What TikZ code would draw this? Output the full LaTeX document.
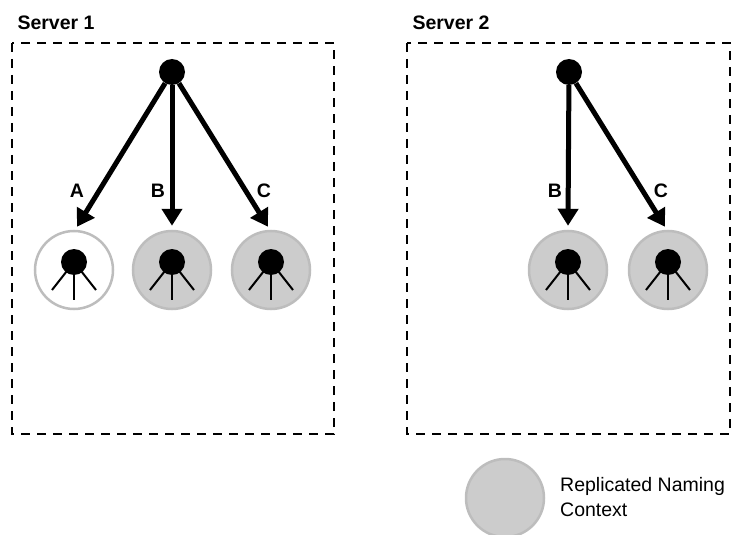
\documentclass[tikz,border=0pt]{standalone}
\usepackage{fontspec}
\setmainfont{Liberation Sans}
\usetikzlibrary{arrows.meta}
\definecolor{ctxfill}{HTML}{CCCCCC}
\definecolor{ctxedge}{HTML}{BDBDBD}
\tikzset{
  serverbox/.style={draw=black, line width=2.7pt, dash pattern=on 9pt off 7pt},
  rootdot/.style={circle, fill=black, minimum size=26pt, inner sep=0pt},
  ctx/.style={circle, draw=ctxedge, line width=2.5pt, fill=ctxfill, minimum size=78pt, inner sep=0pt},
  plainctx/.style={circle, draw=ctxedge, line width=2.5pt, fill=white, minimum size=78pt, inner sep=0pt},
  ref/.style={line width=5pt, -{Triangle[length=17pt,width=20pt]}},
  lbl/.style={font=\fontsize{19.5pt}{23pt}\selectfont\bfseries},
  title/.style={font=\fontsize{19.5pt}{23pt}\selectfont\bfseries, anchor=base west},
}
\begin{document}
\begin{tikzpicture}[x=1pt,y=-1pt]
\useasboundingbox (0,0) rectangle (732,535);
% server boxes
\draw[serverbox] (12,43) rectangle (334,434);
\draw[serverbox] (407,43) rectangle (730,434);
\node[title] (t1) at (14,30) {Server 1};
\node[title] (t2) at (409,30) {Server 2};
% root dots
\node[rootdot] (r1) at (172,72) {};
\node[rootdot] (r2) at (569,72) {};
% contexts
\node[plainctx] (a1) at (74,270) {};
\node[ctx] (b1) at (172,270) {};
\node[ctx] (c1) at (271,270) {};
\node[ctx] (b2) at (568,270) {};
\node[ctx] (c2) at (668,270) {};
\node[ctx] (leg) at (505,498) {};
% inner glyphs
\foreach \n in {a1,b1,c1,b2,c2}{
  \draw[line width=2pt] ([yshift=8pt]\n.center) -- ([yshift=-30pt]\n.center);
  \draw[line width=2pt] ([yshift=8pt]\n.center) -- ([xshift=-22pt,yshift=-20pt]\n.center);
  \draw[line width=2pt] ([yshift=8pt]\n.center) -- ([xshift=22pt,yshift=-20pt]\n.center);
  \node[circle, fill=black, minimum size=26pt, inner sep=0pt] (\n dot) at ([yshift=8pt]\n.center) {};
}
% arrows
\draw[ref] (r1) -- ([xshift=3pt,yshift=3pt]a1.north);
\draw[ref] (r1) -- ([yshift=4pt]b1.north);
\draw[ref] (r1) -- ([xshift=-3pt,yshift=3pt]c1.north);
\draw[ref] (r2) -- ([yshift=4pt]b2.north);
\draw[ref] (r2) -- ([xshift=-3pt,yshift=3pt]c2.north);
% labels
\node[lbl] (la1) at (77,191) {A};
\node[lbl] (lb1) at (158,191) {B};
\node[lbl] (lc1) at (264,191) {C};
\node[lbl] (lb2) at (555,191) {B};
\node[lbl] (lc2) at (661,191) {C};
% legend text
\node[anchor=west, align=left, font=\fontsize{19.5pt}{25pt}\selectfont, inner sep=0pt] (legt) at (560,497) {Replicated Naming\\Context};
\end{tikzpicture}
\end{document}
